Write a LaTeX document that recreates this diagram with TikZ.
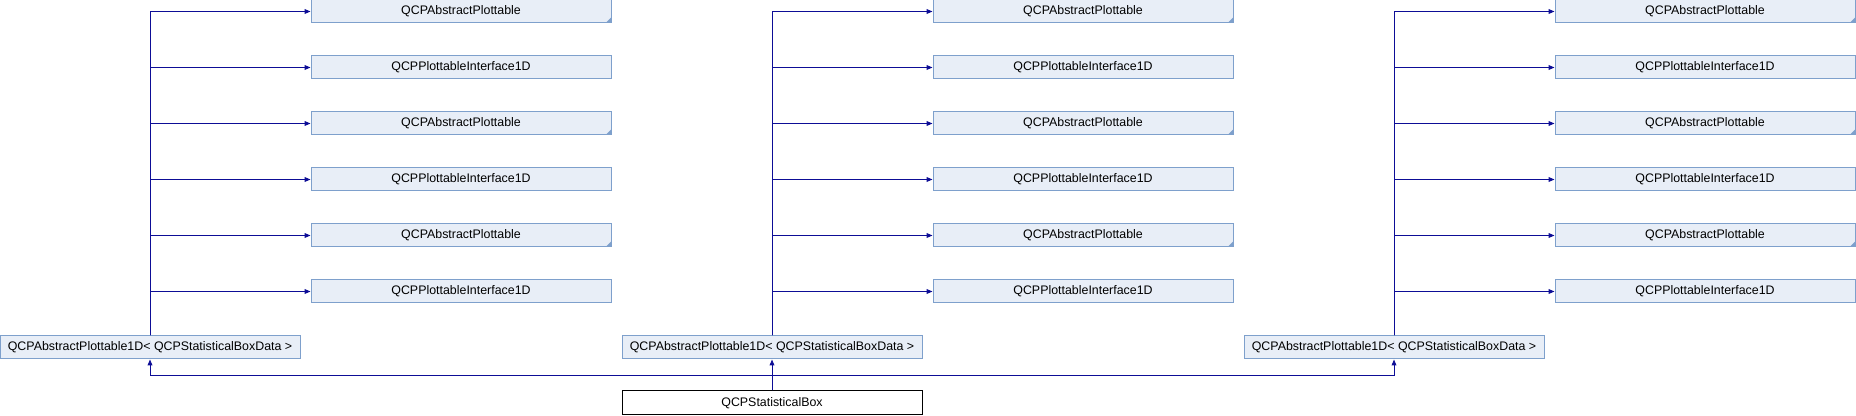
\documentclass[tikz,border=0pt]{standalone}
\usepackage{fontspec}
\setmainfont{Liberation Sans}
\usetikzlibrary{arrows.meta}
\definecolor{DoxyFill}{HTML}{E8EEF7}
\definecolor{DoxyBorder}{HTML}{7EA0CC}
\definecolor{DoxyEdge}{HTML}{0D0D96}

\begin{document}
\begin{tikzpicture}[x=0.75pt, y=-0.75pt, >={Triangle[length=4.5pt,width=3.6pt]},
    classbox/.style={draw=DoxyBorder, fill=DoxyFill, line width=0.75pt, inner sep=0pt,
        minimum width=225pt, minimum height=17.25pt, font=\fontsize{9.3pt}{11pt}\selectfont},
    cutbox/.style={classbox, path picture={\fill[DoxyBorder] (path picture bounding box.south east)
        -- ++(-4pt,0) -- ++(4pt,4pt) -- cycle;}},
    inherit/.style={DoxyEdge, line width=0.75pt, ->}]
    \useasboundingbox (0,0) rectangle (1856,416);

    % Left column
    \node[cutbox] (pltL1) at (461,11.5) {QCPAbstractPlottable};
    \node[classbox] (ifcL2) at (461,67.5) {QCPPlottableInterface1D};
    \node[cutbox] (pltL3) at (461,123.5) {QCPAbstractPlottable};
    \node[classbox] (ifcL4) at (461,179.5) {QCPPlottableInterface1D};
    \node[cutbox] (pltL5) at (461,235.5) {QCPAbstractPlottable};
    \node[classbox] (ifcL6) at (461,291.5) {QCPPlottableInterface1D};
    \node[classbox] (baseL) at (150,347.5) {QCPAbstractPlottable1D< QCPStatisticalBoxData >};

    % Middle column
    \node[cutbox] (pltM1) at (1083,11.5) {QCPAbstractPlottable};
    \node[classbox] (ifcM2) at (1083,67.5) {QCPPlottableInterface1D};
    \node[cutbox] (pltM3) at (1083,123.5) {QCPAbstractPlottable};
    \node[classbox] (ifcM4) at (1083,179.5) {QCPPlottableInterface1D};
    \node[cutbox] (pltM5) at (1083,235.5) {QCPAbstractPlottable};
    \node[classbox] (ifcM6) at (1083,291.5) {QCPPlottableInterface1D};
    \node[classbox] (baseM) at (772,347.5) {QCPAbstractPlottable1D< QCPStatisticalBoxData >};

    % Right column
    \node[cutbox] (pltR1) at (1705,11.5) {QCPAbstractPlottable};
    \node[classbox] (ifcR2) at (1705,67.5) {QCPPlottableInterface1D};
    \node[cutbox] (pltR3) at (1705,123.5) {QCPAbstractPlottable};
    \node[classbox] (ifcR4) at (1705,179.5) {QCPPlottableInterface1D};
    \node[cutbox] (pltR5) at (1705,235.5) {QCPAbstractPlottable};
    \node[classbox] (ifcR6) at (1705,291.5) {QCPPlottableInterface1D};
    \node[classbox] (baseR) at (1394,347.5) {QCPAbstractPlottable1D< QCPStatisticalBoxData >};

    % Derived class
    \node[classbox, draw=black, fill=white, minimum height=18pt] (box) at (772,403) {QCPStatisticalBox};

    % Inheritance edges
    \draw[inherit] (baseL.north) |- (pltL1.west);
    \draw[inherit] (baseL.north) |- (ifcL2.west);
    \draw[inherit] (baseL.north) |- (pltL3.west);
    \draw[inherit] (baseL.north) |- (ifcL4.west);
    \draw[inherit] (baseL.north) |- (pltL5.west);
    \draw[inherit] (baseL.north) |- (ifcL6.west);
    \draw[inherit] (baseM.north) |- (pltM1.west);
    \draw[inherit] (baseM.north) |- (ifcM2.west);
    \draw[inherit] (baseM.north) |- (pltM3.west);
    \draw[inherit] (baseM.north) |- (ifcM4.west);
    \draw[inherit] (baseM.north) |- (pltM5.west);
    \draw[inherit] (baseM.north) |- (ifcM6.west);
    \draw[inherit] (baseR.north) |- (pltR1.west);
    \draw[inherit] (baseR.north) |- (ifcR2.west);
    \draw[inherit] (baseR.north) |- (pltR3.west);
    \draw[inherit] (baseR.north) |- (ifcR4.west);
    \draw[inherit] (baseR.north) |- (pltR5.west);
    \draw[inherit] (baseR.north) |- (ifcR6.west);

    \coordinate (busL) at (150,376);
    \coordinate (busR) at (1394,376);
    \draw[inherit] (box.north) |- (busL) -- (baseL.south);
    \draw[inherit] (box.north) -- (baseM.south);
    \draw[inherit] (box.north) |- (busR) -- (baseR.south);
\end{tikzpicture}
\end{document}
